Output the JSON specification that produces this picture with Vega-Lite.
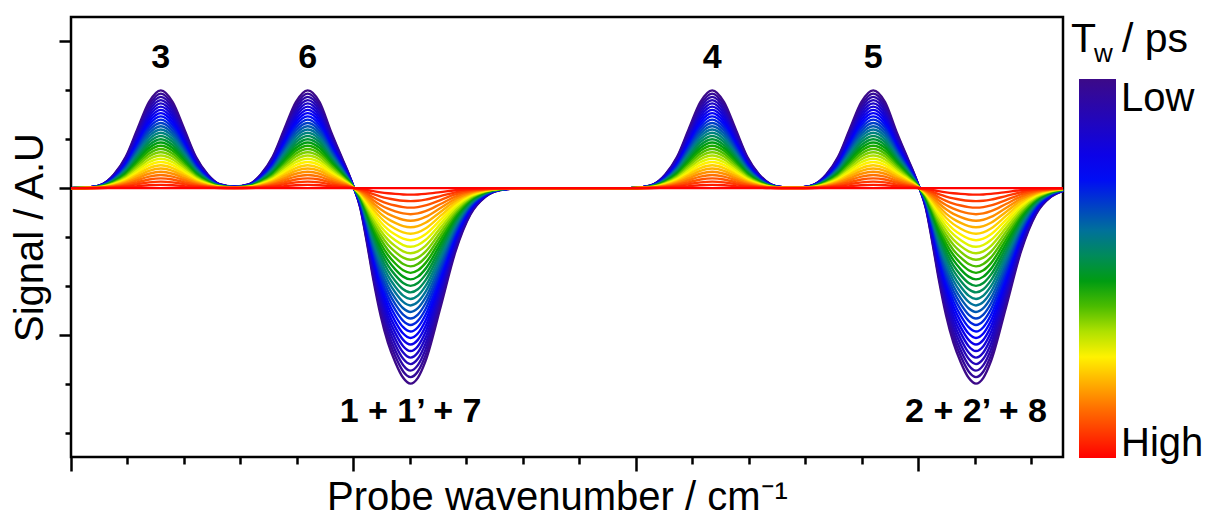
{
  "$schema": "https://vega.github.io/schema/vega-lite/v6.json",
  "width": 992,
  "height": 440,
  "autosize": {"type": "none"},
  "padding": {"left": 71, "top": 17, "right": 143, "bottom": 61},
  "background": "white",
  "config": {
    "view": {"stroke": "black", "strokeWidth": 2.5},
    "font": "Liberation Sans"
  },
  "datasets": {
    "xs": [
      {"i":1,"x":0},{"i":2,"x":0.35},{"i":3,"x":0.555},{"i":4,"x":0.76},{"i":5,"x":0.97},{"i":6,"x":1.18},{"i":7,"x":1.38},{"i":8,"x":1.59},{"i":9,"x":1.8},{"i":10,"x":2},
      {"i":11,"x":2.21},{"i":12,"x":2.42},{"i":13,"x":2.63},{"i":14,"x":2.89},{"i":15,"x":3.155},{"i":16,"x":3.36},{"i":17,"x":3.57},{"i":18,"x":3.78},{"i":19,"x":3.98},{"i":20,"x":4.19},
      {"i":21,"x":4.4},{"i":22,"x":4.6},{"i":23,"x":4.81},{"i":24,"x":4.92},{"i":25,"x":5.01},{"i":26,"x":5.12},{"i":27,"x":5.23},{"i":28,"x":5.35},{"i":29,"x":5.48},{"i":30,"x":5.61},
      {"i":31,"x":5.74},{"i":32,"x":5.88},{"i":33,"x":6.01},{"i":34,"x":6.14},{"i":35,"x":6.275},{"i":36,"x":6.54},{"i":37,"x":6.805},{"i":38,"x":7.07},{"i":39,"x":7.335},{"i":40,"x":7.6},
      {"i":41,"x":8},{"i":42,"x":9.9},{"i":43,"x":10.11},{"i":44,"x":10.315},{"i":45,"x":10.52},{"i":46,"x":10.73},{"i":47,"x":10.94},{"i":48,"x":11.14},{"i":49,"x":11.35},{"i":50,"x":11.56},
      {"i":51,"x":11.76},{"i":52,"x":11.97},{"i":53,"x":12.18},{"i":54,"x":12.385},{"i":55,"x":12.59},{"i":56,"x":12.96},{"i":57,"x":13.165},{"i":58,"x":13.37},{"i":59,"x":13.58},{"i":60,"x":13.79},
      {"i":61,"x":13.99},{"i":62,"x":14.2},{"i":63,"x":14.41},{"i":64,"x":14.61},{"i":65,"x":14.82},{"i":66,"x":14.93},{"i":67,"x":15.02},{"i":68,"x":15.13},{"i":69,"x":15.24},{"i":70,"x":15.36},
      {"i":71,"x":15.49},{"i":72,"x":15.62},{"i":73,"x":15.75},{"i":74,"x":15.89},{"i":75,"x":16.02},{"i":76,"x":16.15},{"i":77,"x":16.285},{"i":78,"x":16.55},{"i":79,"x":16.815},{"i":80,"x":17.08},
      {"i":81,"x":17.345},{"i":82,"x":17.56}
    ]
  },
  "layer": [
    {
      "data": {
        "values": [
          {"k":30,"y":[0,0.3,1.2,4.2,9.6,18.3,26.4,30,26.4,18.3,9.6,4.2,1.2,0.45,1.2,4.2,9.6,18.3,26.4,30,26.4,17.4,8.7,4.2,0,-6,-15.9,-27.9,-39,-47.4,-53.4,-58.2,-60,-58.2,-53.1,-36.6,-19.5,-8.1,-2.7,-0.6,0,0,0.3,1.2,4.2,9.6,18.3,26.4,30,26.4,18.3,9.6,4.2,1.2,0.3,0.3,1.2,4.2,9.6,18.3,26.4,30,26.4,17.4,8.7,4.2,0,-6,-15.9,-27.9,-39,-47.4,-53.4,-58.2,-60,-58.2,-53.1,-36.6,-19.5,-8.1,-2.7,-0.9]},
          {"k":29,"y":[0,0.29,1.16,4.06,9.28,17.69,25.52,29,25.52,17.69,9.28,4.06,1.16,0.44,1.16,4.06,9.28,17.69,25.52,29,25.52,16.82,8.41,4.06,0,-5.8,-15.37,-26.97,-37.7,-45.82,-51.62,-56.26,-58,-56.26,-51.33,-35.38,-18.85,-7.83,-2.61,-0.58,0,0,0.29,1.16,4.06,9.28,17.69,25.52,29,25.52,17.69,9.28,4.06,1.16,0.29,0.29,1.16,4.06,9.28,17.69,25.52,29,25.52,16.82,8.41,4.06,0,-5.8,-15.37,-26.97,-37.7,-45.82,-51.62,-56.26,-58,-56.26,-51.33,-35.38,-18.85,-7.83,-2.61,-0.87]},
          {"k":28,"y":[0,0.28,1.12,3.92,8.96,17.08,24.64,28,24.64,17.08,8.96,3.92,1.12,0.42,1.12,3.92,8.96,17.08,24.64,28,24.64,16.24,8.12,3.92,0,-5.6,-14.84,-26.04,-36.4,-44.24,-49.84,-54.32,-56,-54.32,-49.56,-34.16,-18.2,-7.56,-2.52,-0.56,0,0,0.28,1.12,3.92,8.96,17.08,24.64,28,24.64,17.08,8.96,3.92,1.12,0.28,0.28,1.12,3.92,8.96,17.08,24.64,28,24.64,16.24,8.12,3.92,0,-5.6,-14.84,-26.04,-36.4,-44.24,-49.84,-54.32,-56,-54.32,-49.56,-34.16,-18.2,-7.56,-2.52,-0.84]},
          {"k":27,"y":[0,0.27,1.08,3.78,8.64,16.47,23.76,27,23.76,16.47,8.64,3.78,1.08,0.41,1.08,3.78,8.64,16.47,23.76,27,23.76,15.66,7.83,3.78,0,-5.4,-14.31,-25.11,-35.1,-42.66,-48.06,-52.38,-54,-52.38,-47.79,-32.94,-17.55,-7.29,-2.43,-0.54,0,0,0.27,1.08,3.78,8.64,16.47,23.76,27,23.76,16.47,8.64,3.78,1.08,0.27,0.27,1.08,3.78,8.64,16.47,23.76,27,23.76,15.66,7.83,3.78,0,-5.4,-14.31,-25.11,-35.1,-42.66,-48.06,-52.38,-54,-52.38,-47.79,-32.94,-17.55,-7.29,-2.43,-0.81]},
          {"k":26,"y":[0,0.26,1.04,3.64,8.32,15.86,22.88,26,22.88,15.86,8.32,3.64,1.04,0.39,1.04,3.64,8.32,15.86,22.88,26,22.88,15.08,7.54,3.64,0,-5.2,-13.78,-24.18,-33.8,-41.08,-46.28,-50.44,-52,-50.44,-46.02,-31.72,-16.9,-7.02,-2.34,-0.52,0,0,0.26,1.04,3.64,8.32,15.86,22.88,26,22.88,15.86,8.32,3.64,1.04,0.26,0.26,1.04,3.64,8.32,15.86,22.88,26,22.88,15.08,7.54,3.64,0,-5.2,-13.78,-24.18,-33.8,-41.08,-46.28,-50.44,-52,-50.44,-46.02,-31.72,-16.9,-7.02,-2.34,-0.78]},
          {"k":25,"y":[0,0.25,1,3.5,8,15.25,22,25,22,15.25,8,3.5,1,0.38,1,3.5,8,15.25,22,25,22,14.5,7.25,3.5,0,-5,-13.25,-23.25,-32.5,-39.5,-44.5,-48.5,-50,-48.5,-44.25,-30.5,-16.25,-6.75,-2.25,-0.5,0,0,0.25,1,3.5,8,15.25,22,25,22,15.25,8,3.5,1,0.25,0.25,1,3.5,8,15.25,22,25,22,14.5,7.25,3.5,0,-5,-13.25,-23.25,-32.5,-39.5,-44.5,-48.5,-50,-48.5,-44.25,-30.5,-16.25,-6.75,-2.25,-0.75]},
          {"k":24,"y":[0,0.24,0.96,3.36,7.68,14.64,21.12,24,21.12,14.64,7.68,3.36,0.96,0.36,0.96,3.36,7.68,14.64,21.12,24,21.12,13.92,6.96,3.36,0,-4.8,-12.72,-22.32,-31.2,-37.92,-42.72,-46.56,-48,-46.56,-42.48,-29.28,-15.6,-6.48,-2.16,-0.48,0,0,0.24,0.96,3.36,7.68,14.64,21.12,24,21.12,14.64,7.68,3.36,0.96,0.24,0.24,0.96,3.36,7.68,14.64,21.12,24,21.12,13.92,6.96,3.36,0,-4.8,-12.72,-22.32,-31.2,-37.92,-42.72,-46.56,-48,-46.56,-42.48,-29.28,-15.6,-6.48,-2.16,-0.72]},
          {"k":23,"y":[0,0.23,0.92,3.22,7.36,14.03,20.24,23,20.24,14.03,7.36,3.22,0.92,0.35,0.92,3.22,7.36,14.03,20.24,23,20.24,13.34,6.67,3.22,0,-4.6,-12.19,-21.39,-29.9,-36.34,-40.94,-44.62,-46,-44.62,-40.71,-28.06,-14.95,-6.21,-2.07,-0.46,0,0,0.23,0.92,3.22,7.36,14.03,20.24,23,20.24,14.03,7.36,3.22,0.92,0.23,0.23,0.92,3.22,7.36,14.03,20.24,23,20.24,13.34,6.67,3.22,0,-4.6,-12.19,-21.39,-29.9,-36.34,-40.94,-44.62,-46,-44.62,-40.71,-28.06,-14.95,-6.21,-2.07,-0.69]},
          {"k":22,"y":[0,0.22,0.88,3.08,7.04,13.42,19.36,22,19.36,13.42,7.04,3.08,0.88,0.33,0.88,3.08,7.04,13.42,19.36,22,19.36,12.76,6.38,3.08,0,-4.4,-11.66,-20.46,-28.6,-34.76,-39.16,-42.68,-44,-42.68,-38.94,-26.84,-14.3,-5.94,-1.98,-0.44,0,0,0.22,0.88,3.08,7.04,13.42,19.36,22,19.36,13.42,7.04,3.08,0.88,0.22,0.22,0.88,3.08,7.04,13.42,19.36,22,19.36,12.76,6.38,3.08,0,-4.4,-11.66,-20.46,-28.6,-34.76,-39.16,-42.68,-44,-42.68,-38.94,-26.84,-14.3,-5.94,-1.98,-0.66]},
          {"k":21,"y":[0,0.21,0.84,2.94,6.72,12.81,18.48,21,18.48,12.81,6.72,2.94,0.84,0.32,0.84,2.94,6.72,12.81,18.48,21,18.48,12.18,6.09,2.94,0,-4.2,-11.13,-19.53,-27.3,-33.18,-37.38,-40.74,-42,-40.74,-37.17,-25.62,-13.65,-5.67,-1.89,-0.42,0,0,0.21,0.84,2.94,6.72,12.81,18.48,21,18.48,12.81,6.72,2.94,0.84,0.21,0.21,0.84,2.94,6.72,12.81,18.48,21,18.48,12.18,6.09,2.94,0,-4.2,-11.13,-19.53,-27.3,-33.18,-37.38,-40.74,-42,-40.74,-37.17,-25.62,-13.65,-5.67,-1.89,-0.63]},
          {"k":20,"y":[0,0.2,0.8,2.8,6.4,12.2,17.6,20,17.6,12.2,6.4,2.8,0.8,0.3,0.8,2.8,6.4,12.2,17.6,20,17.6,11.6,5.8,2.8,0,-4,-10.6,-18.6,-26,-31.6,-35.6,-38.8,-40,-38.8,-35.4,-24.4,-13,-5.4,-1.8,-0.4,0,0,0.2,0.8,2.8,6.4,12.2,17.6,20,17.6,12.2,6.4,2.8,0.8,0.2,0.2,0.8,2.8,6.4,12.2,17.6,20,17.6,11.6,5.8,2.8,0,-4,-10.6,-18.6,-26,-31.6,-35.6,-38.8,-40,-38.8,-35.4,-24.4,-13,-5.4,-1.8,-0.6]},
          {"k":19,"y":[0,0.19,0.76,2.66,6.08,11.59,16.72,19,16.72,11.59,6.08,2.66,0.76,0.29,0.76,2.66,6.08,11.59,16.72,19,16.72,11.02,5.51,2.66,0,-3.8,-10.07,-17.67,-24.7,-30.02,-33.82,-36.86,-38,-36.86,-33.63,-23.18,-12.35,-5.13,-1.71,-0.38,0,0,0.19,0.76,2.66,6.08,11.59,16.72,19,16.72,11.59,6.08,2.66,0.76,0.19,0.19,0.76,2.66,6.08,11.59,16.72,19,16.72,11.02,5.51,2.66,0,-3.8,-10.07,-17.67,-24.7,-30.02,-33.82,-36.86,-38,-36.86,-33.63,-23.18,-12.35,-5.13,-1.71,-0.57]},
          {"k":18,"y":[0,0.18,0.72,2.52,5.76,10.98,15.84,18,15.84,10.98,5.76,2.52,0.72,0.27,0.72,2.52,5.76,10.98,15.84,18,15.84,10.44,5.22,2.52,0,-3.6,-9.54,-16.74,-23.4,-28.44,-32.04,-34.92,-36,-34.92,-31.86,-21.96,-11.7,-4.86,-1.62,-0.36,0,0,0.18,0.72,2.52,5.76,10.98,15.84,18,15.84,10.98,5.76,2.52,0.72,0.18,0.18,0.72,2.52,5.76,10.98,15.84,18,15.84,10.44,5.22,2.52,0,-3.6,-9.54,-16.74,-23.4,-28.44,-32.04,-34.92,-36,-34.92,-31.86,-21.96,-11.7,-4.86,-1.62,-0.54]},
          {"k":17,"y":[0,0.17,0.68,2.38,5.44,10.37,14.96,17,14.96,10.37,5.44,2.38,0.68,0.26,0.68,2.38,5.44,10.37,14.96,17,14.96,9.86,4.93,2.38,0,-3.4,-9.01,-15.81,-22.1,-26.86,-30.26,-32.98,-34,-32.98,-30.09,-20.74,-11.05,-4.59,-1.53,-0.34,0,0,0.17,0.68,2.38,5.44,10.37,14.96,17,14.96,10.37,5.44,2.38,0.68,0.17,0.17,0.68,2.38,5.44,10.37,14.96,17,14.96,9.86,4.93,2.38,0,-3.4,-9.01,-15.81,-22.1,-26.86,-30.26,-32.98,-34,-32.98,-30.09,-20.74,-11.05,-4.59,-1.53,-0.51]},
          {"k":16,"y":[0,0.16,0.64,2.24,5.12,9.76,14.08,16,14.08,9.76,5.12,2.24,0.64,0.24,0.64,2.24,5.12,9.76,14.08,16,14.08,9.28,4.64,2.24,0,-3.2,-8.48,-14.88,-20.8,-25.28,-28.48,-31.04,-32,-31.04,-28.32,-19.52,-10.4,-4.32,-1.44,-0.32,0,0,0.16,0.64,2.24,5.12,9.76,14.08,16,14.08,9.76,5.12,2.24,0.64,0.16,0.16,0.64,2.24,5.12,9.76,14.08,16,14.08,9.28,4.64,2.24,0,-3.2,-8.48,-14.88,-20.8,-25.28,-28.48,-31.04,-32,-31.04,-28.32,-19.52,-10.4,-4.32,-1.44,-0.48]},
          {"k":15,"y":[0,0.15,0.6,2.1,4.8,9.15,13.2,15,13.2,9.15,4.8,2.1,0.6,0.23,0.6,2.1,4.8,9.15,13.2,15,13.2,8.7,4.35,2.1,0,-3,-7.95,-13.95,-19.5,-23.7,-26.7,-29.1,-30,-29.1,-26.55,-18.3,-9.75,-4.05,-1.35,-0.3,0,0,0.15,0.6,2.1,4.8,9.15,13.2,15,13.2,9.15,4.8,2.1,0.6,0.15,0.15,0.6,2.1,4.8,9.15,13.2,15,13.2,8.7,4.35,2.1,0,-3,-7.95,-13.95,-19.5,-23.7,-26.7,-29.1,-30,-29.1,-26.55,-18.3,-9.75,-4.05,-1.35,-0.45]},
          {"k":14,"y":[0,0.14,0.56,1.96,4.48,8.54,12.32,14,12.32,8.54,4.48,1.96,0.56,0.21,0.56,1.96,4.48,8.54,12.32,14,12.32,8.12,4.06,1.96,0,-2.8,-7.42,-13.02,-18.2,-22.12,-24.92,-27.16,-28,-27.16,-24.78,-17.08,-9.1,-3.78,-1.26,-0.28,0,0,0.14,0.56,1.96,4.48,8.54,12.32,14,12.32,8.54,4.48,1.96,0.56,0.14,0.14,0.56,1.96,4.48,8.54,12.32,14,12.32,8.12,4.06,1.96,0,-2.8,-7.42,-13.02,-18.2,-22.12,-24.92,-27.16,-28,-27.16,-24.78,-17.08,-9.1,-3.78,-1.26,-0.42]},
          {"k":13,"y":[0,0.13,0.52,1.82,4.16,7.93,11.44,13,11.44,7.93,4.16,1.82,0.52,0.2,0.52,1.82,4.16,7.93,11.44,13,11.44,7.54,3.77,1.82,0,-2.6,-6.89,-12.09,-16.9,-20.54,-23.14,-25.22,-26,-25.22,-23.01,-15.86,-8.45,-3.51,-1.17,-0.26,0,0,0.13,0.52,1.82,4.16,7.93,11.44,13,11.44,7.93,4.16,1.82,0.52,0.13,0.13,0.52,1.82,4.16,7.93,11.44,13,11.44,7.54,3.77,1.82,0,-2.6,-6.89,-12.09,-16.9,-20.54,-23.14,-25.22,-26,-25.22,-23.01,-15.86,-8.45,-3.51,-1.17,-0.39]},
          {"k":12,"y":[0,0.12,0.48,1.68,3.84,7.32,10.56,12,10.56,7.32,3.84,1.68,0.48,0.18,0.48,1.68,3.84,7.32,10.56,12,10.56,6.96,3.48,1.68,0,-2.4,-6.36,-11.16,-15.6,-18.96,-21.36,-23.28,-24,-23.28,-21.24,-14.64,-7.8,-3.24,-1.08,-0.24,0,0,0.12,0.48,1.68,3.84,7.32,10.56,12,10.56,7.32,3.84,1.68,0.48,0.12,0.12,0.48,1.68,3.84,7.32,10.56,12,10.56,6.96,3.48,1.68,0,-2.4,-6.36,-11.16,-15.6,-18.96,-21.36,-23.28,-24,-23.28,-21.24,-14.64,-7.8,-3.24,-1.08,-0.36]},
          {"k":11,"y":[0,0.11,0.44,1.54,3.52,6.71,9.68,11,9.68,6.71,3.52,1.54,0.44,0.17,0.44,1.54,3.52,6.71,9.68,11,9.68,6.38,3.19,1.54,0,-2.2,-5.83,-10.23,-14.3,-17.38,-19.58,-21.34,-22,-21.34,-19.47,-13.42,-7.15,-2.97,-0.99,-0.22,0,0,0.11,0.44,1.54,3.52,6.71,9.68,11,9.68,6.71,3.52,1.54,0.44,0.11,0.11,0.44,1.54,3.52,6.71,9.68,11,9.68,6.38,3.19,1.54,0,-2.2,-5.83,-10.23,-14.3,-17.38,-19.58,-21.34,-22,-21.34,-19.47,-13.42,-7.15,-2.97,-0.99,-0.33]},
          {"k":10,"y":[0,0.1,0.4,1.4,3.2,6.1,8.8,10,8.8,6.1,3.2,1.4,0.4,0.15,0.4,1.4,3.2,6.1,8.8,10,8.8,5.8,2.9,1.4,0,-2,-5.3,-9.3,-13,-15.8,-17.8,-19.4,-20,-19.4,-17.7,-12.2,-6.5,-2.7,-0.9,-0.2,0,0,0.1,0.4,1.4,3.2,6.1,8.8,10,8.8,6.1,3.2,1.4,0.4,0.1,0.1,0.4,1.4,3.2,6.1,8.8,10,8.8,5.8,2.9,1.4,0,-2,-5.3,-9.3,-13,-15.8,-17.8,-19.4,-20,-19.4,-17.7,-12.2,-6.5,-2.7,-0.9,-0.3]},
          {"k":9,"y":[0,0.09,0.36,1.26,2.88,5.49,7.92,9,7.92,5.49,2.88,1.26,0.36,0.14,0.36,1.26,2.88,5.49,7.92,9,7.92,5.22,2.61,1.26,0,-1.8,-4.77,-8.37,-11.7,-14.22,-16.02,-17.46,-18,-17.46,-15.93,-10.98,-5.85,-2.43,-0.81,-0.18,0,0,0.09,0.36,1.26,2.88,5.49,7.92,9,7.92,5.49,2.88,1.26,0.36,0.09,0.09,0.36,1.26,2.88,5.49,7.92,9,7.92,5.22,2.61,1.26,0,-1.8,-4.77,-8.37,-11.7,-14.22,-16.02,-17.46,-18,-17.46,-15.93,-10.98,-5.85,-2.43,-0.81,-0.27]},
          {"k":8,"y":[0,0.08,0.32,1.12,2.56,4.88,7.04,8,7.04,4.88,2.56,1.12,0.32,0.12,0.32,1.12,2.56,4.88,7.04,8,7.04,4.64,2.32,1.12,0,-1.6,-4.24,-7.44,-10.4,-12.64,-14.24,-15.52,-16,-15.52,-14.16,-9.76,-5.2,-2.16,-0.72,-0.16,0,0,0.08,0.32,1.12,2.56,4.88,7.04,8,7.04,4.88,2.56,1.12,0.32,0.08,0.08,0.32,1.12,2.56,4.88,7.04,8,7.04,4.64,2.32,1.12,0,-1.6,-4.24,-7.44,-10.4,-12.64,-14.24,-15.52,-16,-15.52,-14.16,-9.76,-5.2,-2.16,-0.72,-0.24]},
          {"k":7,"y":[0,0.07,0.28,0.98,2.24,4.27,6.16,7,6.16,4.27,2.24,0.98,0.28,0.11,0.28,0.98,2.24,4.27,6.16,7,6.16,4.06,2.03,0.98,0,-1.4,-3.71,-6.51,-9.1,-11.06,-12.46,-13.58,-14,-13.58,-12.39,-8.54,-4.55,-1.89,-0.63,-0.14,0,0,0.07,0.28,0.98,2.24,4.27,6.16,7,6.16,4.27,2.24,0.98,0.28,0.07,0.07,0.28,0.98,2.24,4.27,6.16,7,6.16,4.06,2.03,0.98,0,-1.4,-3.71,-6.51,-9.1,-11.06,-12.46,-13.58,-14,-13.58,-12.39,-8.54,-4.55,-1.89,-0.63,-0.21]},
          {"k":6,"y":[0,0.06,0.24,0.84,1.92,3.66,5.28,6,5.28,3.66,1.92,0.84,0.24,0.09,0.24,0.84,1.92,3.66,5.28,6,5.28,3.48,1.74,0.84,0,-1.2,-3.18,-5.58,-7.8,-9.48,-10.68,-11.64,-12,-11.64,-10.62,-7.32,-3.9,-1.62,-0.54,-0.12,0,0,0.06,0.24,0.84,1.92,3.66,5.28,6,5.28,3.66,1.92,0.84,0.24,0.06,0.06,0.24,0.84,1.92,3.66,5.28,6,5.28,3.48,1.74,0.84,0,-1.2,-3.18,-5.58,-7.8,-9.48,-10.68,-11.64,-12,-11.64,-10.62,-7.32,-3.9,-1.62,-0.54,-0.18]},
          {"k":5,"y":[0,0.05,0.2,0.7,1.6,3.05,4.4,5,4.4,3.05,1.6,0.7,0.2,0.08,0.2,0.7,1.6,3.05,4.4,5,4.4,2.9,1.45,0.7,0,-1,-2.65,-4.65,-6.5,-7.9,-8.9,-9.7,-10,-9.7,-8.85,-6.1,-3.25,-1.35,-0.45,-0.1,0,0,0.05,0.2,0.7,1.6,3.05,4.4,5,4.4,3.05,1.6,0.7,0.2,0.05,0.05,0.2,0.7,1.6,3.05,4.4,5,4.4,2.9,1.45,0.7,0,-1,-2.65,-4.65,-6.5,-7.9,-8.9,-9.7,-10,-9.7,-8.85,-6.1,-3.25,-1.35,-0.45,-0.15]},
          {"k":4,"y":[0,0.04,0.16,0.56,1.28,2.44,3.52,4,3.52,2.44,1.28,0.56,0.16,0.06,0.16,0.56,1.28,2.44,3.52,4,3.52,2.32,1.16,0.56,0,-0.8,-2.12,-3.72,-5.2,-6.32,-7.12,-7.76,-8,-7.76,-7.08,-4.88,-2.6,-1.08,-0.36,-0.08,0,0,0.04,0.16,0.56,1.28,2.44,3.52,4,3.52,2.44,1.28,0.56,0.16,0.04,0.04,0.16,0.56,1.28,2.44,3.52,4,3.52,2.32,1.16,0.56,0,-0.8,-2.12,-3.72,-5.2,-6.32,-7.12,-7.76,-8,-7.76,-7.08,-4.88,-2.6,-1.08,-0.36,-0.12]},
          {"k":3,"y":[0,0.03,0.12,0.42,0.96,1.83,2.64,3,2.64,1.83,0.96,0.42,0.12,0.05,0.12,0.42,0.96,1.83,2.64,3,2.64,1.74,0.87,0.42,0,-0.6,-1.59,-2.79,-3.9,-4.74,-5.34,-5.82,-6,-5.82,-5.31,-3.66,-1.95,-0.81,-0.27,-0.06,0,0,0.03,0.12,0.42,0.96,1.83,2.64,3,2.64,1.83,0.96,0.42,0.12,0.03,0.03,0.12,0.42,0.96,1.83,2.64,3,2.64,1.74,0.87,0.42,0,-0.6,-1.59,-2.79,-3.9,-4.74,-5.34,-5.82,-6,-5.82,-5.31,-3.66,-1.95,-0.81,-0.27,-0.09]},
          {"k":2,"y":[0,0.02,0.08,0.28,0.64,1.22,1.76,2,1.76,1.22,0.64,0.28,0.08,0.03,0.08,0.28,0.64,1.22,1.76,2,1.76,1.16,0.58,0.28,0,-0.4,-1.06,-1.86,-2.6,-3.16,-3.56,-3.88,-4,-3.88,-3.54,-2.44,-1.3,-0.54,-0.18,-0.04,0,0,0.02,0.08,0.28,0.64,1.22,1.76,2,1.76,1.22,0.64,0.28,0.08,0.02,0.02,0.08,0.28,0.64,1.22,1.76,2,1.76,1.16,0.58,0.28,0,-0.4,-1.06,-1.86,-2.6,-3.16,-3.56,-3.88,-4,-3.88,-3.54,-2.44,-1.3,-0.54,-0.18,-0.06]},
          {"k":1,"y":[0,0.01,0.04,0.14,0.32,0.61,0.88,1,0.88,0.61,0.32,0.14,0.04,0.02,0.04,0.14,0.32,0.61,0.88,1,0.88,0.58,0.29,0.14,0,-0.2,-0.53,-0.93,-1.3,-1.58,-1.78,-1.94,-2,-1.94,-1.77,-1.22,-0.65,-0.27,-0.09,-0.02,0,0,0.01,0.04,0.14,0.32,0.61,0.88,1,0.88,0.61,0.32,0.14,0.04,0.01,0.01,0.04,0.14,0.32,0.61,0.88,1,0.88,0.58,0.29,0.14,0,-0.2,-0.53,-0.93,-1.3,-1.58,-1.78,-1.94,-2,-1.94,-1.77,-1.22,-0.65,-0.27,-0.09,-0.03]},
          {"k":0,"y":[0,0,0,0,0,0,0,0,0,0,0,0,0,0,0,0,0,0,0,0,0,0,0,0,0,0,0,0,0,0,0,0,0,0,0,0,0,0,0,0,0,0,0,0,0,0,0,0,0,0,0,0,0,0,0,0,0,0,0,0,0,0,0,0,0,0,0,0,0,0,0,0,0,0,0,0,0,0,0,0,0,0]}
        ]
      },
      "transform": [
        {"flatten": ["y"]},
        {"window": [{"op": "row_number", "as": "i"}], "groupby": ["k"]},
        {"lookup": "i", "from": {"data": {"name": "xs"}, "key": "i", "fields": ["x"]}}
      ],
      "mark": {"type": "line", "interpolate": "monotone", "strokeWidth": 2.4, "strokeJoin": "round"},
      "encoding": {
        "x": {
          "field": "x", "type": "quantitative",
          "scale": {"domain": [0, 17.56], "nice": false, "zero": false},
          "axis": {
            "orient": "bottom", "values": [0, 5, 10, 15], "labels": false, "domain": false, "grid": false,
            "tickSize": 14, "tickWidth": 2.5, "tickColor": "black",
            "title": "Probe wavenumber / cm⁻¹", "titleFont": "Liberation Sans", "titleFontSize": 40,
            "titleFontWeight": "normal", "titleColor": "black", "titlePadding": 5, "titleX": 486
          }
        },
        "y": {
          "field": "y", "type": "quantitative",
          "scale": {"domain": [-82.5, 52.5], "nice": false, "zero": false},
          "axis": {
            "orient": "left", "values": [45, 0, -45], "labels": false, "domain": false, "grid": false,
            "tickSize": 12, "tickWidth": 2.5, "tickColor": "black",
            "title": "Signal / A.U", "titleFont": "Liberation Sans", "titleFontSize": 40,
            "titleFontWeight": "normal", "titleColor": "black", "titlePadding": 7
          }
        },
        "color": {
          "field": "k", "type": "quantitative",
          "scale": {
            "domain": [0, 4.5, 8.4, 13.5, 17.4, 22.5, 30],
            "range": ["#ff0000", "#ff8000", "#ffff00", "#00a000", "#00808c", "#0000ff", "#3c0a88"],
            "interpolate": "rgb"
          },
          "legend": {
            "orient": "none", "legendX": 1008, "legendY": 62, "direction": "vertical",
            "title": null, "values": [0, 30],
            "labelExpr": "datum.value >= 30 ? 'Low' : 'High'",
            "gradientLength": 379, "gradientThickness": 37, "gradientStrokeWidth": 0,
            "labelFont": "Liberation Sans", "labelFontSize": 40, "labelColor": "black",
            "labelOffset": 5, "labelOverlap": false, "padding": 0,
            "encode": {"labels": {"update": {"dy": {"signal": "datum.value >= 30 ? 0 : 6"}}}}
          }
        },
        "detail": {"field": "k", "type": "nominal"}
      }
    },
    {
      "data": {"values": [
        {"label": "3", "x": 1.59, "y": 30},
        {"label": "6", "x": 4.19, "y": 30},
        {"label": "4", "x": 11.35, "y": 30},
        {"label": "5", "x": 14.2, "y": 30}
      ]},
      "mark": {"type": "text", "font": "Liberation Sans", "fontSize": 34, "fontWeight": "bold", "align": "center", "baseline": "alphabetic", "dy": -22, "color": "black"},
      "encoding": {
        "x": {
          "field": "x", "type": "quantitative",
          "axis": {
            "orient": "bottom", "values": [1, 2, 3, 4, 6, 7, 8, 9, 11, 12, 13, 14, 16, 17],
            "labels": false, "domain": false, "grid": false, "title": null,
            "tickSize": 7, "tickWidth": 2.5, "tickColor": "black"
          }
        },
        "y": {
          "field": "y", "type": "quantitative",
          "axis": {
            "orient": "left", "values": [30, 15, -15, -30, -60, -75],
            "labels": false, "domain": false, "grid": false, "title": null,
            "tickSize": 6, "tickWidth": 2.5, "tickColor": "black"
          }
        },
        "text": {"field": "label"}
      }
    },
    {
      "data": {"values": [
        {"label": "1 + 1’ + 7", "x": 6.01, "y": -60},
        {"label": "2 + 2’ + 8", "x": 16.02, "y": -60}
      ]},
      "mark": {"type": "text", "font": "Liberation Sans", "fontSize": 34, "fontWeight": "bold", "align": "center", "baseline": "alphabetic", "dy": 38, "color": "black"},
      "encoding": {
        "x": {"field": "x", "type": "quantitative", "axis": null},
        "y": {"field": "y", "type": "quantitative", "axis": null},
        "text": {"field": "label"}
      }
    },
    {
      "data": {"values": [{}]},
      "mark": {"type": "text", "text": "T", "font": "Liberation Sans", "fontSize": 41, "align": "left", "baseline": "alphabetic", "color": "black"},
      "encoding": {
        "x": {"datum": 17.7, "type": "quantitative", "axis": null},
        "y": {"datum": 41.7, "type": "quantitative", "axis": null}
      }
    },
    {
      "data": {"values": [{}]},
      "mark": {"type": "text", "text": "w", "font": "Liberation Sans", "fontSize": 26, "align": "left", "baseline": "alphabetic", "dx": 23, "dy": 10, "color": "black"},
      "encoding": {
        "x": {"datum": 17.7, "type": "quantitative", "axis": null},
        "y": {"datum": 41.7, "type": "quantitative", "axis": null}
      }
    },
    {
      "data": {"values": [{}]},
      "mark": {"type": "text", "text": "/ ps", "font": "Liberation Sans", "fontSize": 41, "align": "left", "baseline": "alphabetic", "dx": 51, "color": "black"},
      "encoding": {
        "x": {"datum": 17.7, "type": "quantitative", "axis": null},
        "y": {"datum": 41.7, "type": "quantitative", "axis": null}
      }
    }
  ],
  "resolve": {"axis": {"x": "independent", "y": "independent"}}
}
